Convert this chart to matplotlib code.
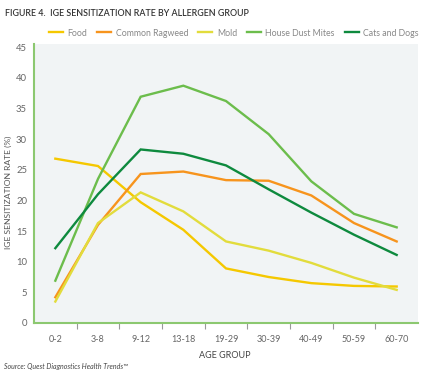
import matplotlib
matplotlib.use("Agg")
import matplotlib.pyplot as plt
from matplotlib.ticker import FixedLocator

plt.rcParams['font.family'] = ['Lato', 'DejaVu Sans']

age_groups = ["0-2", "3-8", "9-12", "13-18", "19-29", "30-39", "40-49", "50-59", "60-70"]
food = [26.8, 25.6, 19.7, 15.2, 8.9, 7.5, 6.5, 6.05, 5.95]
ragweed = [4.2, 16.0, 24.3, 24.7, 23.3, 23.2, 20.8, 16.3, 13.3]
mold = [3.5, 16.3, 21.3, 18.2, 13.3, 11.8, 9.8, 7.4, 5.4]
dust_mites = [6.9, 23.5, 36.9, 38.7, 36.2, 30.8, 23.1, 17.8, 15.6]
cats_dogs = [12.2, 21.0, 28.3, 27.6, 25.7, 21.8, 18.0, 14.4, 11.1]

series = [
    ("Food", food, "#f5c800"),
    ("Common Ragweed", ragweed, "#f7941d"),
    ("Mold", mold, "#e2dc3c"),
    ("House Dust Mites", dust_mites, "#6cbd4c"),
    ("Cats and Dogs", cats_dogs, "#0e8a3e"),
]

fig = plt.figure(figsize=(4.25, 3.77), dpi=100)
ax = fig.add_axes([34/425, 1-323/377, (418-34)/425, (323-44)/377])
ax.set_facecolor("#f1f4f5")
x = list(range(len(age_groups)))
for name, vals, col in series:
    ax.plot(x, vals, color=col, lw=1.7, label=name, solid_joinstyle='miter')

ax.set_xlim(-0.5, 8.5)
ax.set_ylim(0, 45.5)
ax.set_yticks(range(0, 46, 5))
ax.set_xticks(x)
ax.set_xticklabels(age_groups)
ax.xaxis.set_minor_locator(FixedLocator([i + 0.5 for i in range(8)]))
ax.tick_params(axis='x', which='major', length=0, labelsize=6.5, colors="#666666", pad=9)
ax.tick_params(axis='x', which='minor', length=4, width=0.8, color="#999999", direction='out')
ax.tick_params(axis='y', length=0, labelsize=6.8, colors="#666666", pad=5)
for s in ["top", "right"]:
    ax.spines[s].set_visible(False)
ax.spines["left"].set_color("#8cc870")
ax.spines["bottom"].set_color("#8cc870")
ax.spines["left"].set_linewidth(1.5)
ax.spines["bottom"].set_linewidth(1.5)

ax.set_xlabel("AGE GROUP", fontsize=6.5, color="#444444")
ax.xaxis.set_label_coords((225-34)/384, (323-351)/279)
ax.set_ylabel("IGE SENSITIZATION RATE (%)", fontsize=6.1, color="#555555")
ax.yaxis.set_label_coords((12-34)/384, (323-192)/279)

fig.text(5/425, 1-13/377, "FIGURE 4.  IGE SENSITIZATION RATE BY ALLERGEN GROUP",
         fontsize=6.4, color="#333333", va="center", ha="left", fontweight="semibold")
fig.text(4/425, 1-367/377, "Source: Quest Diagnostics Health Trends\u2122",
         fontsize=5.0, color="#444444", style="italic", va="center", ha="left")

fig.legend(loc="center", bbox_to_anchor=(234/425, 1-33/377), ncol=5, frameon=False,
           fontsize=6.3, handlelength=1.6, columnspacing=1.15, handletextpad=0.5,
           labelcolor="#888888", borderaxespad=0, borderpad=0)

fig.savefig("out.png", dpi=100, facecolor="white")
